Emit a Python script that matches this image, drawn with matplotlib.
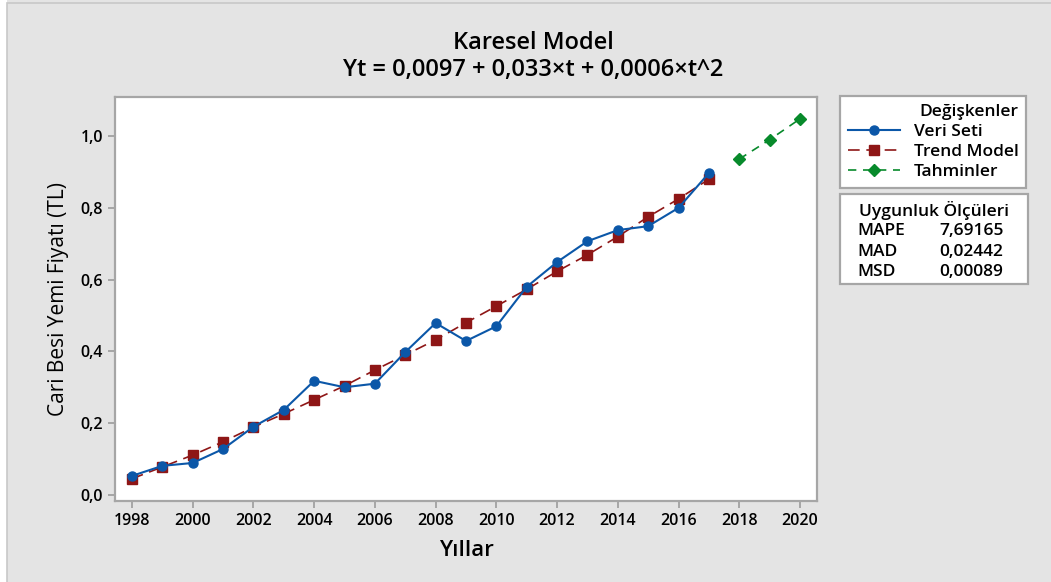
import matplotlib.pyplot as plt
from matplotlib.patches import Rectangle

# years and series
years = list(range(1998, 2018))
veri_seti = [0.053, 0.081, 0.089, 0.128, 0.190, 0.237, 0.318, 0.300, 0.310, 0.398,
             0.479, 0.429, 0.470, 0.580, 0.649, 0.707, 0.738, 0.749, 0.800, 0.897]
trend = [0.045, 0.078, 0.111, 0.148, 0.189, 0.226, 0.265, 0.304, 0.348, 0.390,
         0.432, 0.480, 0.526, 0.573, 0.623, 0.669, 0.720, 0.775, 0.825, 0.880]
tahmin_years = [2018, 2019, 2020]
tahminler = [0.936, 0.990, 1.048]

xticks = list(range(1998, 2021, 2))
yticks = [0.0, 0.2, 0.4, 0.6, 0.8, 1.0]

stat_names = ["MAPE", "MAD", "MSD"]
stat_values = ["7,69165", "0,02442", "0,00089"]

plt.rcParams["font.family"] = ["Open Sans", "DejaVu Sans"]
GRAY = "#a6a6a6"
BLUE = "#0b57a8"
RED = "#8e1616"
GREEN = "#078a2b"
WT = "semibold"

W, H = 1051, 582
fig = plt.figure(figsize=(W / 100, H / 100), dpi=100, facecolor="#e4e4e4")
# white strip on left and thin gray frame line like the screenshot
fig.patches.append(Rectangle((0, 0), 7 / W, 1, transform=fig.transFigure,
                             facecolor="white", edgecolor="none", zorder=0))
fig.patches.append(Rectangle((7 / W, -0.01), 1.0, 1 - 3 / H + 0.01, transform=fig.transFigure,
                             facecolor="none", edgecolor="#c8c8c8", lw=1.2, zorder=0))

ax = fig.add_axes([115 / W, 1 - 501 / H, 702 / W, 404 / H])
ax.set_facecolor("white")

ax.plot(years, trend, color=RED, lw=1.2, ls=(0, (7, 4)), marker="s", ms=7.5,
        mfc=RED, mec=RED, label="Trend Model", zorder=2)
ax.plot(years, veri_seti, color=BLUE, lw=1.5, marker="o", ms=6.5,
        mfc=BLUE, mec=BLUE, label="Veri Seti", zorder=3)
ax.plot(tahmin_years, tahminler, color=GREEN, lw=1.2, ls=(0, (5, 4)), marker="D", ms=6.5,
        mfc=GREEN, mec=GREEN, label="Tahminler", zorder=3)

ax.set_xlim(1997.44, 2020.56)
ax.set_ylim(-0.017, 1.109)
ax.set_xticks(xticks)
ax.set_yticks(yticks)
ax.set_yticklabels([f"{v:.1f}".replace(".", ",") for v in yticks])
for s in ax.spines.values():
    s.set_color(GRAY)
    s.set_linewidth(1.6)
ax.tick_params(colors=GRAY, length=5, width=1.4, labelcolor="black", labelsize=11.5)
for lab in ax.get_xticklabels() + ax.get_yticklabels():
    lab.set_fontweight(WT)

ax.set_xlabel("Yıllar", fontsize=16, fontweight=WT, labelpad=8)
ax.set_ylabel("Cari Besi Yemi Fiyatı (TL)", fontsize=15, labelpad=8)

fig.text(533 / W, 1 - 43 / H, "Karesel Model", ha="center", va="center",
         fontsize=17, fontweight=WT)
fig.text(533 / W, 1 - 70 / H, "Yt = 0,0097 + 0,033×t + 0,0006×t^2", ha="center", va="center",
         fontsize=17, fontweight=WT)

# legend box
handles, labels = ax.get_legend_handles_labels()
order = [1, 0, 2]
leg = fig.legend([handles[i] for i in order], [labels[i] for i in order],
                 title="Değişkenler", loc="upper left",
                 bbox_to_anchor=(840 / W, 1 - 96 / H), bbox_transform=fig.transFigure,
                 fancybox=False, edgecolor=GRAY, framealpha=1, fontsize=12.5,
                 title_fontsize=12.5, handlelength=3.0, handletextpad=0.8,
                 borderpad=0.45, labelspacing=0.22, borderaxespad=0)
leg.get_frame().set_linewidth(1.6)
leg._legend_box.align = "right"
for t in leg.get_texts():
    t.set_fontweight(WT)
leg.get_title().set_fontweight(WT)

# fit statistics box
sx, sy, sw, sh = 840 / W, 1 - 284 / H, 188 / W, 90 / H
fig.patches.append(Rectangle((sx, sy), sw, sh, transform=fig.transFigure,
                             facecolor="white", edgecolor=GRAY, lw=1.6))
fig.text(934 / W, 1 - 210 / H, "Uygunluk Ölçüleri", ha="center", va="center",
         fontsize=12.5, fontweight=WT)
for i, (n, v) in enumerate(zip(stat_names, stat_values)):
    yy = 1 - (231 + i * 20.5) / H
    fig.text(857 / W, yy, n, ha="left", va="center", fontsize=12.5, fontweight=WT)
    fig.text(939 / W, yy, v, ha="left", va="center", fontsize=12.5, fontweight=WT)

fig.savefig("out.png", dpi=100, facecolor=fig.get_facecolor())
